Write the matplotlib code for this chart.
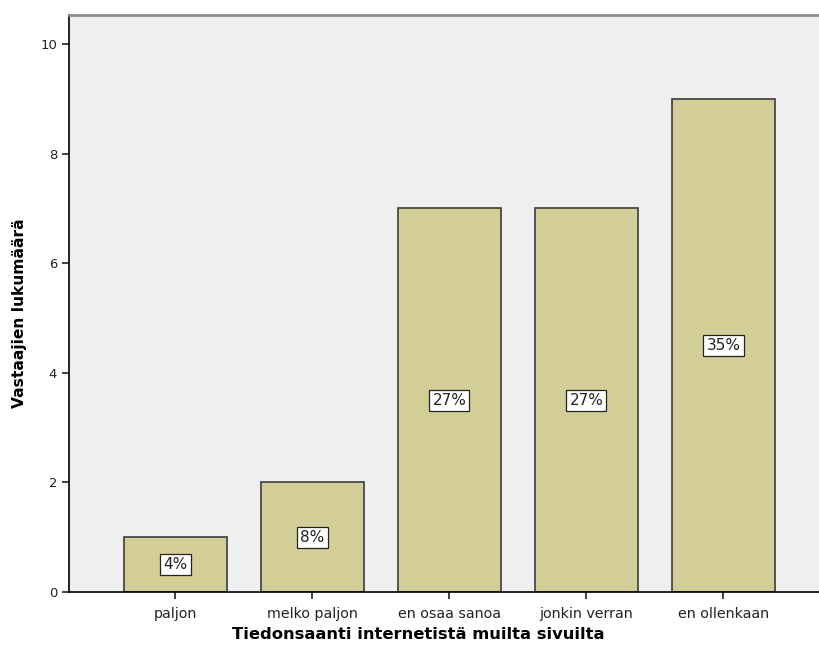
import matplotlib
matplotlib.use("Agg")
import matplotlib.pyplot as plt

categories = ["paljon", "melko paljon", "en osaa sanoa", "jonkin verran", "en ollenkaan"]
counts = [1, 2, 7, 7, 9]
percent_labels = ["4%", "8%", "27%", "27%", "35%"]
yticks = [0, 2, 4, 6, 8, 10]

plt.rcParams["font.family"] = ["DejaVu Sans"]

fig = plt.figure(figsize=(8.19, 6.71), dpi=100)
ax = fig.add_axes([0.0842, 0.1177, 0.9158, 0.8599])
ax.set_facecolor("#EFEFEF")

x = list(range(len(categories)))
ax.bar(x, counts, width=0.75, color="#D3CE97", edgecolor="#3C3C3C", linewidth=1.2, zorder=2)

for xi, c, lab in zip(x, counts, percent_labels):
    ax.text(xi, c / 2, lab, ha="center", va="center", fontsize=11, color="#222222",
            bbox=dict(boxstyle="square,pad=0.2", facecolor="white", edgecolor="#222222", linewidth=0.9),
            zorder=3)

ax.set_xlim(-0.777, 4.697)
ax.set_ylim(0, 10.53)
ax.set_yticks(yticks)
ax.set_xticks(x)
ax.set_xticklabels(categories)

ax.spines["right"].set_visible(False)
ax.spines["top"].set_color("#8A8A8A")
ax.spines["top"].set_linewidth(2)
ax.spines["left"].set_linewidth(1.2)
ax.spines["bottom"].set_linewidth(1.2)

ax.tick_params(axis="both", labelsize=9.5, color="#222222", length=5, width=1.2, labelcolor="#222222")
ax.tick_params(axis="x", labelsize=10.3, pad=6)

ax.set_ylabel("Vastaajien lukumäärä", fontsize=11.2, fontweight="bold")
ax.yaxis.set_label_coords(-0.0565, 0.4835)
ax.set_xlabel("Tiedonsaanti internetistä muilta sivuilta", fontsize=11.8, fontweight="bold")
ax.xaxis.set_label_coords(0.466, -0.061)

fig.savefig("out.png", dpi=100)
